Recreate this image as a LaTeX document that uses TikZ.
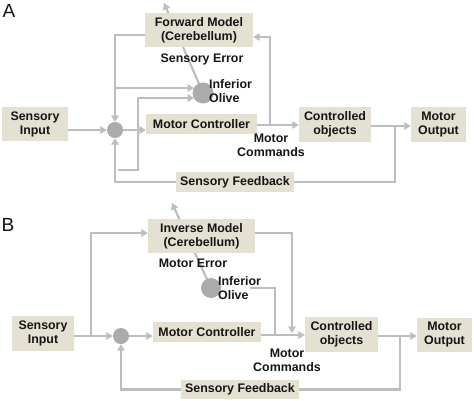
\documentclass[tikz,border=0pt]{standalone}
\usepackage{fontspec}
\setmainfont{Liberation Sans}
\usetikzlibrary{arrows.meta,backgrounds}
\definecolor{boxfill}{HTML}{E4E0D2}
\definecolor{linegray}{HTML}{BEBEBE}
\definecolor{dotgray}{HTML}{ABABAB}
\definecolor{txt}{HTML}{151515}
\begin{document}
\begin{tikzpicture}[x=1pt,y=-1pt,
  box/.style={fill=boxfill,inner sep=0pt,align=center,text=txt,
    font=\fontsize{12.4}{14}\selectfont\bfseries},
  lbl/.style={inner sep=0pt,align=center,text=txt,
    font=\fontsize{12.4}{14}\selectfont\bfseries},
  panel/.style={inner sep=0pt,text=txt,font=\fontsize{19}{19}\selectfont},
  conn/.style={draw=linegray,line width=2.2pt},
  arr/.style={conn,-{Triangle[length=6.5pt,width=7.5pt]}},
  dot/.style={circle,fill=dotgray,inner sep=0pt}]
\useasboundingbox (0,0) rectangle (474,400);

% ---------------- Panel A ----------------
\node[panel] (labA) at (9,11) {A};
\node[box,minimum width=108pt,minimum height=34pt] (fm) at (199,30) {Forward Model\\(Cerebellum)};
\node[box,minimum width=111pt,minimum height=20pt] (mc) at (201.5,124) {Motor Controller};
\node[box,minimum width=72pt,minimum height=35pt] (co) at (335,124.5) {Controlled\\objects};
\node[box,minimum width=55pt,minimum height=35pt] (mo) at (438.5,124.5) {Motor\\Output};
\node[box,minimum width=66pt,minimum height=34pt] (si) at (35,124) {Sensory\\Input};
\node[box,minimum width=118pt,minimum height=20pt] (sf) at (235,182) {Sensory Feedback};
\node[dot,minimum size=21pt] (oA) at (203,93) {};
\node[dot,minimum size=16pt] (sA) at (115,130) {};
\node[lbl] (seA) at (202,59) {Sensory Error};
\node[lbl] (mcmA) at (271,145.5) {Motor\\Commands};
\node[lbl,align=left,anchor=west] (ioA) at (209,91.5) {Inferior\\Olive};

\coordinate (tipA) at (164,3);
\coordinate (oAhi) at (194,88);
\coordinate (oAlo) at (194,98);
\coordinate (fb2A) at (118,170);
\coordinate (mcA) at (270,125);
\coordinate (fbA) at (395,126);

\begin{scope}[on background layer]
  \draw[arr] (oA.center) -- (tipA);
\end{scope}
\draw[arr] (si.east |- sA) -- (sA.west);
\draw[arr] (sA.east) -- (sA -| mc.west);
\draw[arr] ([yshift=-1pt]mc.east) -- ([yshift=-1pt]mc.east -| co.west);
\draw[arr] ([yshift=-1.5pt]co.east) -- ([yshift=-1.5pt]co.east -| mo.west);
\draw[arr] (mcA) |- ([yshift=-7pt]fm.east);
\draw[conn] (fbA) |- (sf.east);
\draw[arr] (sf.west) -| (sA.south);
\draw[arr] (fb2A) -- ++(20,0) |- (oAlo);
\draw[arr] ([yshift=-5pt]fm.west) -| (sA.north);
\draw[arr] (sA |- oAhi) -- (oAhi);

% ---------------- Panel B ----------------
\node[panel] (labB) at (8,225) {B};
\node[box,minimum width=107pt,minimum height=34pt] (im) at (201.5,236) {Inverse Model\\(Cerebellum)};
\node[box,minimum width=108pt,minimum height=20pt] (mcB) at (207,332) {Motor Controller};
\node[box,minimum width=73pt,minimum height=35pt] (coB) at (341.5,334.5) {Controlled\\objects};
\node[box,minimum width=55pt,minimum height=34pt] (moB) at (444.5,335) {Motor\\Output};
\node[box,minimum width=62pt,minimum height=35pt] (siB) at (43,333.5) {Sensory\\Input};
\node[box,minimum width=118pt,minimum height=19pt] (sfB) at (240,389.5) {Sensory Feedback};
\node[dot,minimum size=20pt] (oB) at (211,288) {};
\node[dot,minimum size=16pt] (sB) at (121,336) {};
\node[lbl] (meB) at (193,263) {Motor Error};
\node[lbl] (mcmB) at (287,360) {Motor\\Commands};
\node[lbl,align=left,anchor=west] (ioB) at (218,288) {Inferior\\Olive};

\coordinate (tipB) at (172,203);
\coordinate (jB) at (91,336);
\coordinate (imdn) at (292,333);
\coordinate (mcbr) at (275,335);
\coordinate (oBr) at (250,288);
\coordinate (fbB) at (400,336);

\begin{scope}[on background layer]
  \draw[arr] (oB.center) -- (tipB);
\end{scope}
\draw[arr] (siB.east |- sB) -- (sB.west);
\draw[arr] (jB) |- ([yshift=3pt]im.west);
\draw[arr] (sB.east) -- (sB -| mcB.west);
\draw[arr] ([yshift=-3pt]mcB.east) -- ([yshift=-3pt]mcB.east -| coB.west);
\draw[arr] ([yshift=3pt]im.east) -| (imdn);
\draw[conn] (mcbr) |- (oBr);
\draw[arr] ([yshift=-1.5pt]coB.east) -- ([yshift=-1.5pt]coB.east -| moB.west);
\draw[conn] (fbB) |- (sfB.east);
\draw[arr] (sfB.west) -| (sB.south);
\end{tikzpicture}
\end{document}
